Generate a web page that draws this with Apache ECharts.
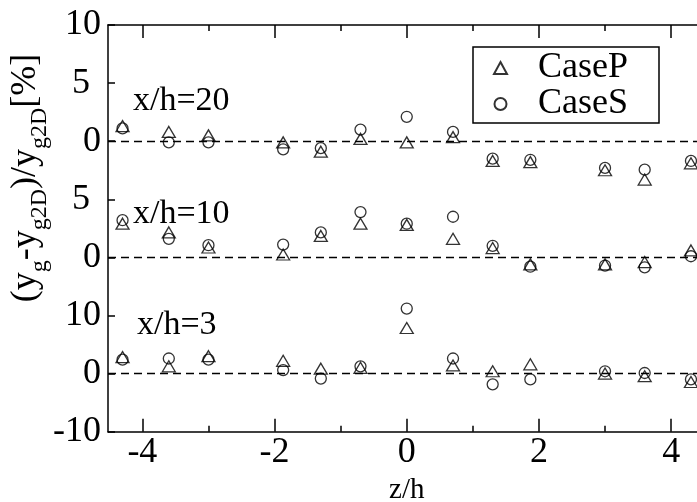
<!DOCTYPE html>
<html>
<head>
<meta charset="utf-8">
<script src="https://cdn.jsdelivr.net/npm/echarts@6/dist/echarts.min.js"></script>
<style>
  html, body { margin: 0; padding: 0; background: #fff; }
  #chart { width: 697px; height: 502px; }
</style>
</head>
<body>
<div id="chart"></div>
<script>
// Spanwise positions z/h of the measurement stations
const zh = [-4.3, -3.6, -3.0, -1.87, -1.3, -0.7, 0, 0.7, 1.3, 1.87, 3.0, 3.6, 4.3];

// Deviation (yg - yg2D)/yg2D [%] at each station, per streamwise position
const caseP_x20 = [1.3, 0.8, 0.5, -0.1, -0.9, 0.2, -0.1, 0.35, -1.7, -1.8, -2.5, -3.3, -1.9];
const caseS_x20 = [1.1, -0.1, -0.1, -0.7, -0.6, 1.0, 2.1, 0.8, -1.5, -1.6, -2.3, -2.45, -1.7];
const caseP_x10 = [2.9, 2.15, 0.85, 0.25, 1.85, 2.9, 2.8, 1.6, 0.8, -0.6, -0.6, -0.4, 0.6];
const caseS_x10 = [3.2, 1.6, 1.05, 1.1, 2.15, 3.9, 2.9, 3.5, 1.0, -0.8, -0.7, -0.85, 0.1];
const caseP_x3  = [2.85, 1.25, 3.0, 2.2, 0.85, 1.0, 7.85, 1.4, 0.4, 1.6, 0.0, -0.45, -1.45];
const caseS_x3  = [2.4, 2.6, 2.4, 0.6, -0.85, 1.25, 11.2, 2.6, -1.85, -1.0, 0.4, 0.1, -1.0];

// Stacked panels: each group has its own zero line and scale on a shared axis
const groups = [
  { name: 'x/h=20', base: 5, unit: 5,  P: caseP_x20, S: caseS_x20 },
  { name: 'x/h=10', base: 3, unit: 5,  P: caseP_x10, S: caseS_x10 },
  { name: 'x/h=3',  base: 1, unit: 10, P: caseP_x3,  S: caseS_x3 }
];

// Tick labels of the shared vertical axis, bottom to top
const yTickLabels = ['-10', '0', '10', '0', '5', '0', '5', '10'];
const xMajorTicks = [-4, -2, 0, 2, 4];
const xMinorTicks = [-3, -1, 1, 3];

const FONT = 'Liberation Serif';

function stacked(key) {
  const out = [];
  groups.forEach(g => {
    g[key].forEach((v, i) => out.push([zh[i], g.base + v / g.unit]));
  });
  return out;
}

const zeroLines = groups.map(g => ({ yAxis: g.base }));

const chart = echarts.init(document.getElementById('chart'), null, { renderer: 'canvas' });

const baseX = {
  type: 'value', min: -4.52, max: 4.52, gridIndex: 0,
  splitLine: { show: false },
  axisLine: { show: true, onZero: false, lineStyle: { color: '#000', width: 1.5 } }
};
const hiddenLine = { show: false, onZero: false };

chart.setOption({
  animation: false,
  backgroundColor: '#fff',
  grid: { left: 108, top: 25, width: 597.5, height: 406.7, containLabel: false, outerBoundsMode: 'none' },
  xAxis: [
    Object.assign({}, baseX, {
      position: 'bottom',
      name: 'z/h', nameLocation: 'middle', nameGap: 43,
      nameTextStyle: { fontFamily: FONT, fontSize: 29, color: '#000' },
      axisTick: { inside: true, length: 13, customValues: xMajorTicks, lineStyle: { color: '#000', width: 1.5 } },
      axisLabel: { customValues: xMajorTicks, margin: 3, fontFamily: FONT, fontSize: 36, color: '#000' }
    }),
    Object.assign({}, baseX, {
      position: 'bottom', axisLine: hiddenLine,
      axisTick: { inside: true, length: 6, customValues: xMinorTicks, lineStyle: { color: '#000', width: 1.5 } },
      axisLabel: { show: false }
    }),
    Object.assign({}, baseX, {
      position: 'top',
      axisTick: { inside: true, length: 13, customValues: xMajorTicks, lineStyle: { color: '#000', width: 1.5 } },
      axisLabel: { show: false }
    }),
    Object.assign({}, baseX, {
      position: 'top', axisLine: hiddenLine,
      axisTick: { inside: true, length: 6, customValues: xMinorTicks, lineStyle: { color: '#000', width: 1.5 } },
      axisLabel: { show: false }
    })
  ],
  yAxis: {
    type: 'value', min: 0, max: 7, interval: 1, position: 'left',
    splitLine: { show: false },
    axisLine: { show: true, onZero: false, lineStyle: { color: '#000', width: 1.5 } },
    axisTick: { inside: true, length: 7, lineStyle: { color: '#000', width: 1.5 } },
    axisLabel: {
      margin: 7,
      formatter: v => {
        const t = yTickLabels[Math.round(v)];
        return t === '5' ? '{f|5}' : '{n|' + t + '}';
      },
      rich: {
        n: { fontFamily: FONT, fontSize: 36, color: '#000' },
        f: { fontFamily: FONT, fontSize: 36, color: '#000', padding: [0, 11, 0, 0] }
      }
    }
  },
  legend: {
    orient: 'vertical',
    left: 473, top: 47,
    padding: [3, 31, 1, 20],
    itemGap: 0,
    itemWidth: 13, itemHeight: 12,
    borderColor: '#000', borderWidth: 1.5,
    textStyle: { fontFamily: FONT, fontSize: 36, color: '#000', lineHeight: 34, padding: [0, 0, 0, 26] },
    data: ['CaseP', 'CaseS']
  },
  graphic: [
    {
      type: 'text', x: 30, y: 178, rotation: Math.PI / 2,
      style: {
        text: '{m|(y}{s|g}{m|-y}{s|g2D}{m|)/y}{s|g2D}{m|[%]}',
        align: 'center', verticalAlign: 'middle',
        rich: {
          m: { fontFamily: FONT, fontSize: 36, color: '#000', lineHeight: 44, verticalAlign: 'top' },
          s: { fontFamily: FONT, fontSize: 24, color: '#000', lineHeight: 24, verticalAlign: 'bottom' }
        }
      }
    },
    { type: 'text', x: 133, y: 101, style: { text: groups[0].name, fontFamily: FONT, fontSize: 34, fill: '#000', verticalAlign: 'middle' } },
    { type: 'text', x: 133, y: 214, style: { text: groups[1].name, fontFamily: FONT, fontSize: 34, fill: '#000', verticalAlign: 'middle' } },
    { type: 'text', x: 137, y: 325, style: { text: groups[2].name, fontFamily: FONT, fontSize: 34, fill: '#000', verticalAlign: 'middle' } }
  ],
  series: [
    {
      name: 'CaseP', type: 'scatter', xAxisIndex: 0,
      symbol: 'triangle', symbolSize: [13, 11],
      itemStyle: { color: 'rgba(0,0,0,0)', borderColor: '#000', borderWidth: 1.3 },
      data: stacked('P'),
      markLine: {
        silent: true, symbol: 'none', label: { show: false },
        lineStyle: { color: '#000', width: 1.3, type: [8, 5] },
        data: zeroLines
      },
      z: 3
    },
    {
      name: 'CaseS', type: 'scatter', xAxisIndex: 0,
      symbol: 'circle', symbolSize: 11,
      itemStyle: { color: 'rgba(0,0,0,0)', borderColor: '#000', borderWidth: 1.3 },
      data: stacked('S'),
      z: 3
    }
  ]
});
</script>
</body>
</html>
